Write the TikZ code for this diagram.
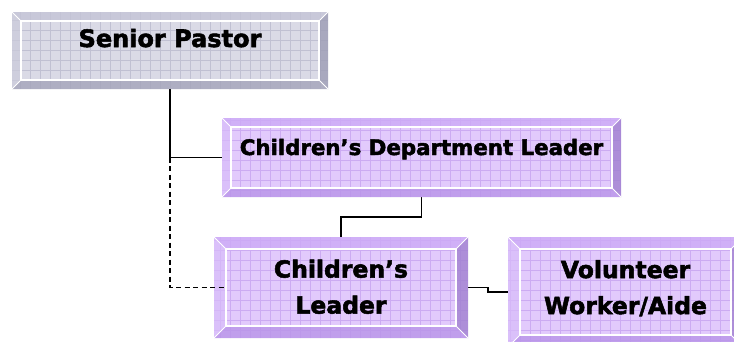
\documentclass[tikz,border=0pt]{standalone}
\usepackage{fontspec}
\setmainfont{DejaVu Sans}[BoldFeatures={FakeBold=2.2}]
\usetikzlibrary{calc}
\definecolor{gface}{HTML}{DADAE6}
\definecolor{ggrid}{HTML}{C0C0D2}
\definecolor{gtop}{HTML}{C4C4D6}
\definecolor{gleft}{HTML}{CACADA}
\definecolor{gright}{HTML}{9C9CB4}
\definecolor{gbot}{HTML}{A4A4BA}
\definecolor{pface}{HTML}{E2CAFC}
\definecolor{pgrid}{HTML}{CCABF2}
\definecolor{ptop}{HTML}{CCAAF6}
\definecolor{pleft}{HTML}{D8BCFA}
\definecolor{pright}{HTML}{A080D0}
\definecolor{pbot}{HTML}{B894E8}
\newcommand\mybevel[3]{%
  \begin{scope}
    \clip (#1.north west) rectangle (#1.south east);
    \fill[#3face] (#1.north west) rectangle (#1.south east);
    \draw[#3grid, line width=0.7pt, step=10pt] (#1.south west) grid (#1.north east);
  \end{scope}
  \coordinate (#1-inw) at ($(#1.north west)+(#2,#2)$);
  \coordinate (#1-ine) at ($(#1.north east)+(-#2,#2)$);
  \coordinate (#1-ise) at ($(#1.south east)+(-#2,-#2)$);
  \coordinate (#1-isw) at ($(#1.south west)+(#2,-#2)$);
  \fill[#3top, fill opacity=0.8] (#1.north west) -- (#1.north east) -- (#1-ine) -- (#1-inw) -- cycle;
  \fill[#3left, fill opacity=0.7] (#1.north west) -- (#1-inw) -- (#1-isw) -- (#1.south west) -- cycle;
  \fill[#3right, fill opacity=0.8] (#1.north east) -- (#1.south east) -- (#1-ise) -- (#1-ine) -- cycle;
  \fill[#3bot, fill opacity=0.8] (#1.south west) -- (#1.south east) -- (#1-ise) -- (#1-isw) -- cycle;
  \draw[white, line width=1.2pt] (#1-inw) rectangle (#1-ise);
  \draw[white, line width=1pt] (#1.north west) -- (#1-inw) (#1.south east) -- (#1-ise)
     (#1.north east) -- (#1-ine) (#1.south west) -- (#1-isw);
}
\tikzset{
  boxshape/.style={draw=none, inner sep=0, outer sep=0, anchor=north west},
  conn/.style={draw=black, line width=1.8pt},
  dashconn/.style={draw=black, line width=1.8pt, dash pattern=on 5pt off 3.5pt},
  label/.style={inner sep=0, text=black}
}
\begin{document}
\begin{tikzpicture}[x=1pt,y=-1pt]
\useasboundingbox (0,0) rectangle (734,341);
\clip (0,0) rectangle (734,341);
\fill[white] (0,0) rectangle (734,341);
% box frames
\node[boxshape, minimum width=316pt, minimum height=77pt] (sp) at (12,12) {};
\node[boxshape, minimum width=399pt, minimum height=79pt] (cdl) at (222,118) {};
\node[boxshape, minimum width=254pt, minimum height=101pt] (cl) at (214,237) {};
\node[boxshape, minimum width=235pt, minimum height=110pt] (vwa) at (508,237) {};
% connectors
\coordinate (j1) at (sp.south |- cdl.west);
\coordinate (k1) at ($(cl.east)+(20,0)$);
\draw[conn] (sp.south) |- (cdl.west);
\draw[conn] (cdl.south) -- ++(0,20) -| (cl.north);
\draw[conn] (cl.east) -- (k1) |- (vwa.west);
% boxes
\mybevel{sp}{9}{g}
\mybevel{cdl}{9}{p}
\mybevel{cl}{12}{p}
\mybevel{vwa}{12}{p}
\draw[dashconn] (j1) |- ($(cl.west)+(11,0)$);
% texts
\node[label, anchor=base, font=\bfseries\fontsize{24}{28}\selectfont] (spt) at (170,47) {Senior Pastor};
\node[label, anchor=base, font=\bfseries\fontsize{21.3}{26}\selectfont] (cdlt) at (421.5,155) {Children’s Department Leader};
\node[label, anchor=north, align=center, font=\bfseries\fontsize{23.5}{36}\selectfont] (clt) at (341,259.5) {Children’s\\Leader};
\node[label, anchor=north, align=center, font=\bfseries\fontsize{23.5}{36}\selectfont] (vwat) at (625.5,260) {Volunteer\\Worker/Aide};
\end{tikzpicture}
\end{document}
